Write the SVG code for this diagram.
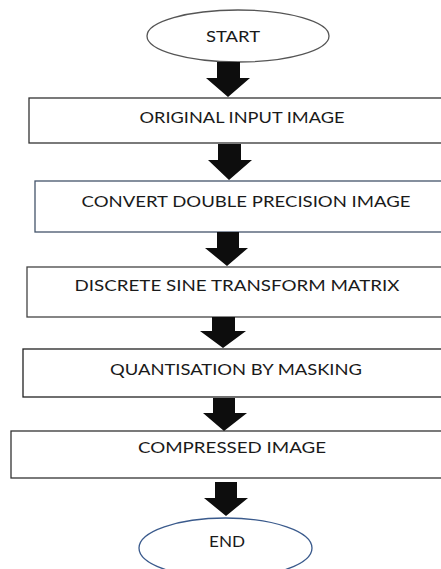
<svg xmlns="http://www.w3.org/2000/svg" width="441" height="569" viewBox="0 0 441 569">
<style>
.box{fill:#fff;stroke-width:1.3}
.lbl{font-family:Lato,"Open Sans","Liberation Sans",sans-serif;font-size:16px;fill:#1a1a1a;text-anchor:middle}
.arr{fill:#0d0d0d}
</style>
<rect width="441" height="569" fill="#fff"/>
<g id="start">
<ellipse cx="238" cy="36" rx="91" ry="26" class="box" stroke="#555"/>
<text x="233" y="42" class="lbl" textLength="54" lengthAdjust="spacingAndGlyphs">START</text>
</g>
<g id="n1">
<rect x="29" y="98" width="420" height="45" class="box" stroke="#333"/>
<text x="242" y="123" class="lbl" textLength="205" lengthAdjust="spacingAndGlyphs">ORIGINAL INPUT IMAGE</text>
</g>
<g id="n2">
<rect x="35" y="181" width="414" height="51" class="box" stroke="#44546a"/>
<text x="246" y="207" class="lbl" textLength="329" lengthAdjust="spacingAndGlyphs">CONVERT DOUBLE PRECISION IMAGE</text>
</g>
<g id="n3">
<rect x="27" y="267" width="422" height="50" class="box" stroke="#444"/>
<text x="237" y="291" class="lbl" textLength="325" lengthAdjust="spacingAndGlyphs">DISCRETE SINE TRANSFORM MATRIX</text>
</g>
<g id="n4">
<rect x="23" y="349" width="426" height="48" class="box" stroke="#222"/>
<text x="236" y="375" class="lbl" textLength="252" lengthAdjust="spacingAndGlyphs">QUANTISATION BY MASKING</text>
</g>
<g id="n5">
<rect x="11" y="431" width="438" height="47" class="box" stroke="#333"/>
<text x="232" y="453" class="lbl" textLength="188" lengthAdjust="spacingAndGlyphs">COMPRESSED IMAGE</text>
</g>
<g id="end">
<ellipse cx="225.5" cy="548" rx="86.5" ry="30" class="box" stroke="#3a5a8c"/>
<text x="227" y="547" class="lbl" textLength="36" lengthAdjust="spacingAndGlyphs">END</text>
</g>
<g id="connectors">
<polygon class="arr" points="217,62 240,62 240,78 250,78 228,97 206,78 217,78"/>
<polygon class="arr" points="218,144 241,144 241,160 252,160 229,180 208,160 218,160"/>
<polygon class="arr" points="217,232 239,232 239,248 248,248 227,266 205,248 217,248"/>
<polygon class="arr" points="212,317 235,317 235,331 246,331 223,348 200,331 212,331"/>
<polygon class="arr" points="213,398 235,398 235,413 247,413 224,431 203,413 213,413"/>
<polygon class="arr" points="215,482 237,482 237,498 248,498 226,516 204,498 215,498"/>
</g>
</svg>
